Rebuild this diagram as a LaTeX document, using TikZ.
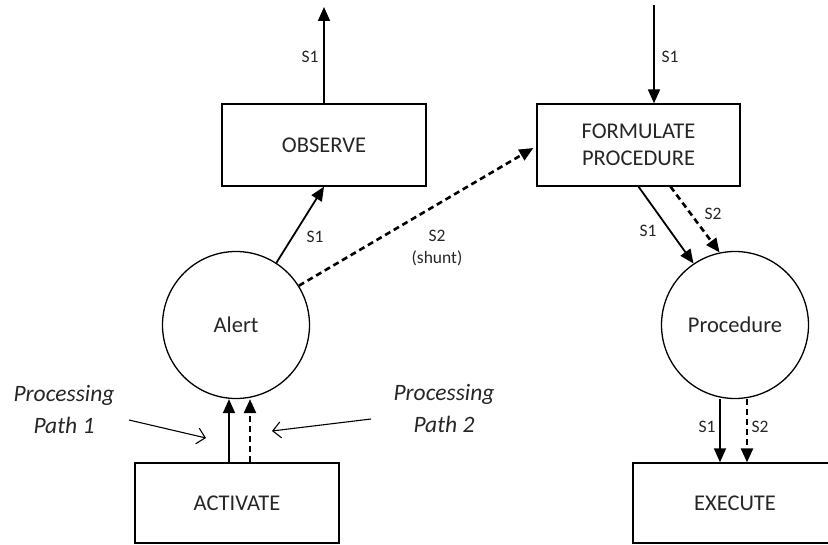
\documentclass[tikz,border=0pt]{standalone}
\usepackage{fontspec}
\setmainfont{Carlito}
\usetikzlibrary{arrows.meta}
\begin{document}
\begin{tikzpicture}[x=1pt,y=-1pt,
  box/.style={draw,line width=1.3pt,minimum width=204pt,minimum height=82pt,inner sep=0pt,font=\fontsize{22.5}{27}\selectfont,text=black!85,align=center},
  state/.style={draw,circle,line width=1.3pt,minimum size=147pt,inner sep=0pt,font=\fontsize{22.5}{27}\selectfont,text=black!85},
  flow/.style={line width=1.8pt,-{Triangle[length=14pt,width=12pt]}},
  shuntflow/.style={flow,dash pattern=on 6pt off 4pt,line width=2.6pt},
  lab/.style={font=\fontsize{17.5}{22}\selectfont,text=black!85,inner sep=0pt},
  pathlab/.style={font=\itshape\fontsize{23.5}{32}\selectfont,text=black!85,align=center,inner sep=0pt},
  pointer/.style={line width=1.1pt,-{Straight Barb[length=8pt,width=16pt,line width=1.1pt]}}
]
\useasboundingbox (0,0) rectangle (828,545);

% boxes and states
\node[box] (observe) at (324,145) {OBSERVE};
\node[box,minimum width=203pt] (formulate) at (638.5,145) {FORMULATE\\PROCEDURE};
\node[box,minimum height=80pt] (activate) at (237,503) {ACTIVATE};
\node[box,minimum height=80pt] (execute) at (735,503) {EXECUTE};
\node[state] (alert) at (236,325) {Alert};
\node[state] (procedure) at (735,325) {Procedure};

% free ends of the outer connectors
\coordinate (outtop) at (324,7);
\coordinate (intop) at (654,5);

% S1 out of OBSERVE and into FORMULATE PROCEDURE
\draw[flow] (observe.north) -- (outtop);
\draw[flow] (intop) -- (intop |- formulate.north);
\node[lab] at (310,57) {S1};
\node[lab] at (670,57) {S1};

% Alert to OBSERVE, and the shunt to FORMULATE PROCEDURE
\draw[flow] (alert.57) -- (observe.south);
\node[lab] at (315,237) {S1};
\draw[shuntflow] (alert.32) -- ([xshift=-3pt,yshift=-3pt]formulate.west);
\node[lab,align=center] at (437,248) {S2\\(shunt)};

% FORMULATE PROCEDURE to Procedure
\draw[flow] (formulate.south) -- (procedure.124);
\draw[shuntflow] ([xshift=32pt]formulate.south) -- (procedure.102);
\node[lab] at (648,231) {S1};
\node[lab] at (713,214) {S2};

% Procedure to EXECUTE
\draw[flow] ([xshift=-15pt]procedure.south) -- ([xshift=-15pt]execute.north);
\draw[shuntflow] ([xshift=12pt]procedure.south) -- ([xshift=12pt]execute.north);
\node[lab] at (707,427) {S1};
\node[lab] at (760,427) {S2};

% ACTIVATE to Alert
\draw[flow] ([xshift=-8pt]activate.north) -- ([xshift=-7pt]alert.south);
\draw[shuntflow] ([xshift=13pt]activate.north) -- ([xshift=14pt]alert.south);

% processing paths
\node[pathlab] (path1) at (64,410) {Processing\\Path 1};
\node[pathlab] (path2) at (444,409) {Processing\\Path 2};
\coordinate (p1from) at (129,420);
\coordinate (p1to) at (206,438);
\coordinate (p2from) at (371,419);
\coordinate (p2to) at (272,431);
\draw[pointer] (p1from) -- (p1to);
\draw[pointer] (p2from) -- (p2to);
\end{tikzpicture}
\end{document}
